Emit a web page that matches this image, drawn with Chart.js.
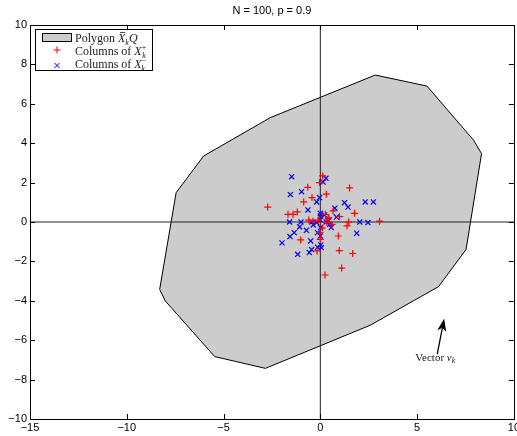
<!DOCTYPE html>
<html>
<head>
<meta charset="utf-8">
<script src="https://cdn.jsdelivr.net/npm/chart.js@4.4.1/dist/chart.umd.min.js"></script>
<style>
  html, body { margin: 0; padding: 0; overflow: hidden; background: #fff; }
  canvas { display: block; }
</style>
</head>
<body>
<canvas id="chart" width="522" height="436"></canvas>
<script>
// N = 100, p = 0.9 : polygon X_k Q with the columns of X_k^+ and X_k^-

const TITLE = 'N = 100, p = 0.9';
const X_TICKS = [-15, -10, -5, 0, 5, 10];
const Y_TICKS = [-10, -8, -6, -4, -2, 0, 2, 4, 6, 8, 10];

// polygon vertices (closed)
const POLY_X = [2.84, 5.51, 7.92, 8.33, 7.53, 6.11, 2.58, -2.84, -5.46, -8.01, -8.30, -7.45, -6.03, -2.58, 2.84];
const POLY_Y = [7.46, 6.90, 4.15, 3.47, -1.39, -3.28, -5.24, -7.43, -6.83, -4.01, -3.42, 1.49, 3.35, 5.30, 7.46];

// columns of X_k^+ (red +)
const PLUS_X = [0.12, -0.04, -0.65, 1.51, 0.31, -0.43, -0.86, -2.72, -1.19, -1.67, -1.41, 0.66, 1.77, 0.26, 0.40,
                -0.38, 0.34, 1.46, 1.38, 3.06, 0.60, -0.03, 0.00, -1.02, 0.93, -0.17, 0.98, 1.67, 1.10, 0.24,
                0.43, -0.10, 0.99, 0.10, -0.60];
const PLUS_Y = [2.34, 2.00, 1.76, 1.73, 1.41, 1.24, 1.02, 0.76, 0.51, 0.39, 0.39, 0.56, 0.44, 0.39, 0.17,
                0.04, -0.03, 0.00, -0.20, 0.04, -0.12, -0.54, -0.88, -0.91, -0.71, -1.47, -1.45, -1.60, -2.34, -2.69,
                0.22, 0.10, 0.27, -0.30, 0.10];

// columns of X_k^- (blue x)
const MINUS_X = [-1.48, 0.29, 0.14, -1.55, -0.97, -0.04, -0.19, 1.25, 1.43, 2.32, 2.74, -0.64, 0.75, 0.00, 0.00,
                 0.21, 0.83, -1.59, -1.00, -0.44, -0.19, 0.41, 0.49, 2.04, 2.46, -1.07, -0.37, 0.01, 0.56, -0.72,
                 -1.35, -1.57, 1.88, 0.00, -0.50, -1.98, 0.02, -0.14, 0.05, -0.45, -0.57, -1.17, -0.14, 0.00, 0.30];
const MINUS_Y = [2.30, 2.22, 2.03, 1.39, 1.54, 1.24, 1.02, 0.98, 0.76, 1.02, 1.02, 0.61, 0.70, 0.44, 0.30,
                 0.36, 0.25, 0.00, 0.00, 0.00, -0.03, 0.05, -0.12, 0.00, -0.03, -0.25, -0.15, -0.28, -0.28, -0.42,
                 -0.54, -0.74, -0.57, -0.71, -0.96, -1.06, -1.16, -1.28, -1.30, -1.40, -1.55, -1.64, -0.54, 0.10, 0.00];

// vector v_k annotation (data coords)
const VECTOR_TAIL = [6.04, -6.71];
const VECTOR_HEAD = [6.38, -5.00];
const VECTOR_LABEL = [4.91, -7.05];

const toPts = (xs, ys) => xs.map((x, i) => ({ x: x, y: ys[i] }));

const SANS = '"Liberation Sans", Arial, sans-serif';
const SERIF = '"Liberation Serif", "Times New Roman", serif';

// draw a sequence of text pieces left to right
function drawRuns(ctx, x, y, parts) {
    parts.forEach(p => {
        ctx.font = p.font;
        ctx.fillText(p.t, x, y + (p.dy || 0));
        const w = ctx.measureText(p.t).width;
        if (p.bar) {
            ctx.beginPath();
            ctx.lineWidth = 0.8;
            ctx.moveTo(x + 2, y - 9.5);
            ctx.lineTo(x + w, y - 9.5);
            ctx.stroke();
        }
        x += w + (p.gap || 0);
    });
}

function plusMark(ctx, x, y, r, color) {
    ctx.strokeStyle = color;
    ctx.lineWidth = 1;
    ctx.beginPath();
    ctx.moveTo(x - r, y); ctx.lineTo(x + r, y);
    ctx.moveTo(x, y - r); ctx.lineTo(x, y + r);
    ctx.stroke();
}

function crossMark(ctx, x, y, r, color) {
    ctx.strokeStyle = color;
    ctx.lineWidth = 1;
    ctx.beginPath();
    ctx.moveTo(x - r, y - r); ctx.lineTo(x + r, y + r);
    ctx.moveTo(x - r, y + r); ctx.lineTo(x + r, y - r);
    ctx.stroke();
}

const decorations = {
    id: 'decorations',
    afterDatasetsDraw(chart) {
        const ctx = chart.ctx;
        const area = chart.chartArea;
        const xs = chart.scales.x, ys = chart.scales.y;
        ctx.save();

        // vector v_k arrow and label
        const tx = xs.getPixelForValue(VECTOR_TAIL[0]), ty = ys.getPixelForValue(VECTOR_TAIL[1]);
        const hx = xs.getPixelForValue(VECTOR_HEAD[0]), hy = ys.getPixelForValue(VECTOR_HEAD[1]);
        const ang = Math.atan2(hy - ty, hx - tx);
        const c = Math.cos(ang), s = Math.sin(ang);
        ctx.strokeStyle = '#000';
        ctx.fillStyle = '#000';
        ctx.lineWidth = 1.3;
        ctx.beginPath();
        ctx.moveTo(tx, ty);
        ctx.lineTo(hx - 5 * c, hy - 5 * s);
        ctx.stroke();
        ctx.beginPath();
        ctx.moveTo(hx, hy);
        ctx.lineTo(hx - 9 * c + 3.2 * s, hy - 9 * s - 3.2 * c);
        ctx.lineTo(hx - 6.5 * c, hy - 6.5 * s);
        ctx.lineTo(hx - 9 * c - 3.2 * s, hy - 9 * s + 3.2 * c);
        ctx.closePath();
        ctx.fill();
        ctx.stroke();

        ctx.fillStyle = '#222';
        ctx.textAlign = 'left';
        ctx.textBaseline = 'alphabetic';
        drawRuns(ctx, xs.getPixelForValue(VECTOR_LABEL[0]), ys.getPixelForValue(VECTOR_LABEL[1]), [
            { t: 'Vector ', font: '11px ' + SERIF },
            { t: 'v', font: 'italic 11px ' + SERIF },
            { t: 'k', font: 'italic 8px ' + SERIF, dy: 2 }
        ]);

        // frame and inward ticks
        ctx.strokeStyle = '#000';
        ctx.lineWidth = 1;
        ctx.strokeRect(Math.round(area.left) + 0.5, Math.round(area.top) + 0.5,
                       Math.round(area.right - area.left), Math.round(area.bottom - area.top));
        const tl = 5;
        ctx.beginPath();
        X_TICKS.slice(1, -1).forEach(v => {
            const px = Math.round(xs.getPixelForValue(v)) + 0.5;
            ctx.moveTo(px, area.bottom); ctx.lineTo(px, area.bottom - tl);
            ctx.moveTo(px, area.top); ctx.lineTo(px, area.top + tl);
        });
        Y_TICKS.slice(1, -1).forEach(v => {
            const py = Math.round(ys.getPixelForValue(v)) + 0.5;
            ctx.moveTo(area.left, py); ctx.lineTo(area.left + tl, py);
            ctx.moveTo(area.right, py); ctx.lineTo(area.right - tl, py);
        });
        ctx.stroke();

        // title
        ctx.fillStyle = '#000';
        ctx.font = '11px ' + SANS;
        ctx.textAlign = 'center';
        ctx.textBaseline = 'middle';
        ctx.fillText(TITLE, (area.left + area.right) / 2, 11);

        // legend
        ctx.fillStyle = '#fff';
        ctx.fillRect(35, 29, 117, 41);
        ctx.strokeRect(35.5, 29.5, 117, 41);
        ctx.fillStyle = '#cccccc';
        ctx.fillRect(42, 33, 30, 9);
        ctx.strokeRect(42.5, 33.5, 29, 8);
        plusMark(ctx, 57, 50, 3.5, '#ff0000');
        crossMark(ctx, 57, 65.5, 2.5, '#0000ff');

        ctx.fillStyle = '#222';
        ctx.strokeStyle = '#222';
        ctx.textAlign = 'left';
        ctx.textBaseline = 'alphabetic';
        drawRuns(ctx, 75, 42, [
            { t: 'Polygon ', font: '12px ' + SERIF },
            { t: 'X', font: 'italic 12px ' + SERIF, bar: true },
            { t: 'k', font: 'italic 8px ' + SERIF, dy: 2.5 },
            { t: 'Q', font: 'italic 12px ' + SERIF }
        ]);
        drawRuns(ctx, 75, 54.5, [
            { t: 'Columns of ', font: '12px ' + SERIF },
            { t: 'X', font: 'italic 12px ' + SERIF },
            { t: '+', font: '8px ' + SERIF, dy: -5, gap: -4 },
            { t: 'k', font: 'italic 8px ' + SERIF, dy: 3 }
        ]);
        drawRuns(ctx, 75, 68, [
            { t: 'Columns of ', font: '12px ' + SERIF },
            { t: 'X', font: 'italic 12px ' + SERIF },
            { t: '\u2212', font: '8px ' + SERIF, dy: -5, gap: -5 },
            { t: 'k', font: 'italic 8px ' + SERIF, dy: 3 }
        ]);
        ctx.restore();
    }
};

const minus = v => String(v).replace('-', '\u2212');

new Chart(document.getElementById('chart'), {
    type: 'scatter',
    data: {
        datasets: [
            {
                type: 'line',
                label: 'Polygon',
                data: toPts(POLY_X, POLY_Y),
                borderColor: '#000',
                borderWidth: 1,
                backgroundColor: '#cccccc',
                fill: 'shape',
                pointRadius: 0,
                tension: 0,
                order: 4,
            },
            {
                type: 'line',
                label: 'x axis',
                data: [{ x: X_TICKS[0], y: 0 }, { x: X_TICKS[X_TICKS.length - 1], y: 0 }],
                borderColor: '#222',
                borderWidth: 1,
                pointRadius: 0,
                fill: false,
                order: 3,
            },
            {
                type: 'line',
                label: 'y axis',
                data: [{ x: 0, y: Y_TICKS[0] }, { x: 0, y: Y_TICKS[Y_TICKS.length - 1] }],
                borderColor: '#222',
                borderWidth: 1,
                pointRadius: 0,
                fill: false,
                order: 3,
            },
            {
                label: 'Columns of X_k^-',
                data: toPts(MINUS_X, MINUS_Y),
                pointStyle: 'crossRot',
                pointRadius: 3.6,
                borderColor: '#0000ff',
                borderWidth: 1.2,
                order: 2,
            },
            {
                label: 'Columns of X_k^+',
                data: toPts(PLUS_X, PLUS_Y),
                pointStyle: 'cross',
                pointRadius: 3.5,
                borderColor: '#ff0000',
                borderWidth: 1.2,
                order: 1,
            },
        ],
    },
    options: {
        responsive: false,
        animation: false,
        layout: { padding: { top: 25, left: 0, right: 0, bottom: 0 } },
        plugins: {
            legend: { display: false },
            title: { display: false },
            tooltip: { enabled: false },
        },
        scales: {
            x: {
                type: 'linear',
                min: X_TICKS[0],
                max: X_TICKS[X_TICKS.length - 1],
                afterBuildTicks: s => { s.ticks = X_TICKS.map(v => ({ value: v })); },
                afterFit: s => { s.height = 17; },
                grid: { display: false, drawTicks: false },
                border: { display: false },
                ticks: {
                    color: '#000',
                    padding: 2,
                    maxRotation: 0,
                    font: { family: SANS, size: 11 },
                    callback: v => minus(v),
                },
            },
            y: {
                type: 'linear',
                min: Y_TICKS[0],
                max: Y_TICKS[Y_TICKS.length - 1],
                afterBuildTicks: s => { s.ticks = Y_TICKS.map(v => ({ value: v })); },
                afterFit: s => { s.width = 30; },
                grid: { display: false, drawTicks: false },
                border: { display: false },
                ticks: {
                    color: '#000',
                    padding: 3,
                    font: { family: SANS, size: 11 },
                    callback: v => minus(v),
                },
            },
        },
    },
    plugins: [decorations],
});
</script>
</body>
</html>
